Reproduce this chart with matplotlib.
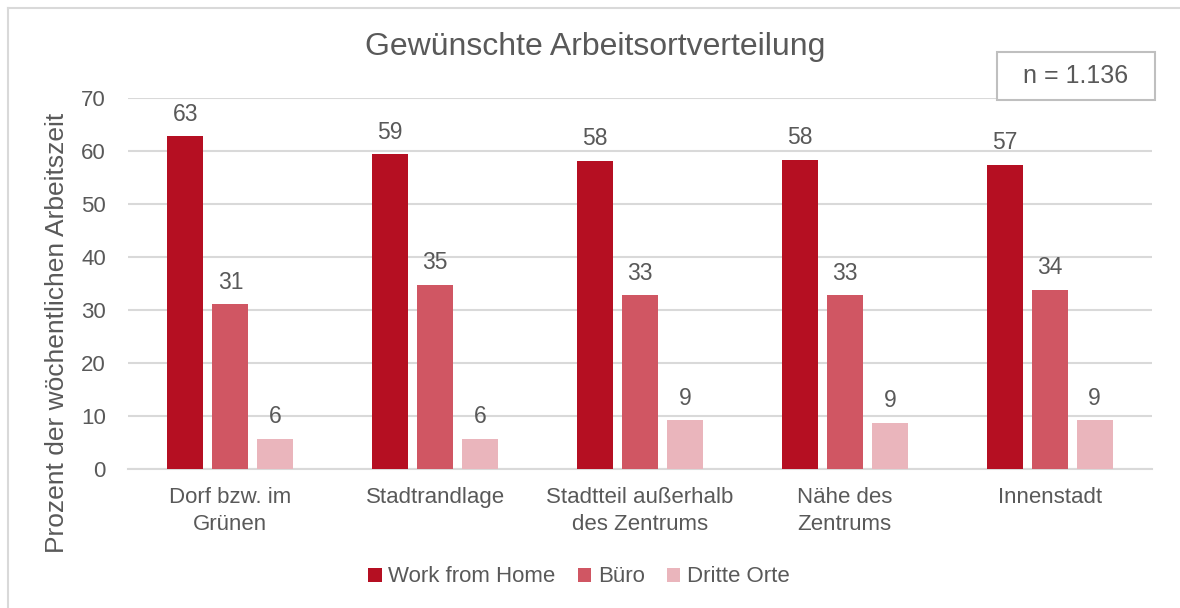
import numpy as np
import matplotlib.pyplot as plt
from matplotlib.lines import Line2D
from matplotlib.patches import Rectangle

plt.rcParams['font.family'] = ['Liberation Sans', 'DejaVu Sans']

categories = ['Dorf bzw. im\nGrünen', 'Stadtrandlage', 'Stadtteil außerhalb\ndes Zentrums',
              'Nähe des\nZentrums', 'Innenstadt']
series = ['Work from Home', 'Büro', 'Dritte Orte']
wfh = [62.8, 59.4, 58.1, 58.3, 57.4]
buero = [31.1, 34.7, 32.8, 32.8, 33.8]
dritte = [5.7, 5.7, 9.2, 8.7, 9.2]
colors = ['#B50F22', '#D05663', '#EAB5BC']
txt = '#595959'

fig = plt.figure(figsize=(11.8, 6.08), dpi=100)
ax = fig.add_axes([128 / 1180, 1 - 469 / 608, 1024 / 1180, 371 / 608])

x = np.arange(len(categories))
w = 0.176
step = 0.22
for i, (vals, name) in enumerate(zip([wfh, buero, dritte], series)):
    pos = x + (i - 1) * step
    ax.bar(pos, vals, width=w, color=colors[i], label=name, zorder=3)
    for p, v in zip(pos, vals):
        ax.text(p, v + 2.0, f'{v:.0f}', ha='center', va='bottom', fontsize=16.5, color=txt)

ax.set_xlim(-0.5, 4.5)
ax.set_ylim(0, 70)
ax.set_yticks(range(0, 71, 10))
ax.yaxis.grid(True, color='#D9D9D9', linewidth=1.5, zorder=0)
ax.set_axisbelow(True)
for s in ['top', 'right', 'left']:
    ax.spines[s].set_visible(False)
ax.spines['bottom'].set_color('#D9D9D9')
ax.spines['bottom'].set_linewidth(1.5)
ax.tick_params(length=0, labelsize=16, colors=txt)
ax.tick_params(axis='y', pad=16)
ax.set_xticks(x)
ax.set_xticklabels(categories, fontsize=16, color=txt, linespacing=1.4)
ax.tick_params(axis='x', pad=13)

fig.text(57 / 1180, 1 - 333 / 608, 'Prozent der wöchentlichen Arbeitszeit', rotation=90,
         ha='center', va='center', fontsize=19, color=txt)

fig.text(595 / 1180, 1 - 47 / 608, 'Gewünschte Arbeitsortverteilung', ha='center', va='center',
         fontsize=23, color=txt)

# n box
fig.add_artist(Rectangle((997 / 1180, 1 - 100 / 608), 158 / 1180, 48 / 608, transform=fig.transFigure,
                         facecolor='white', edgecolor='#BFBFBF', linewidth=1.5, zorder=5))
fig.text(1076 / 1180, 1 - 76 / 608, 'n = 1.136', ha='center', va='center', fontsize=18, color=txt,
         zorder=6)

fig.legend(loc='center', bbox_to_anchor=(579 / 1180, 1 - 577 / 608), ncol=3, frameon=False,
           fontsize=16, labelcolor=txt, handlelength=0.6, handleheight=0.6, handletextpad=0.3,
           columnspacing=1.0)

# outer frame
fig.add_artist(Line2D([8 / 1180, 8 / 1180], [0, 1 - 8 / 608], color='#D9D9D9', linewidth=1.5))
fig.add_artist(Line2D([8 / 1180, 1], [1 - 8 / 608, 1 - 8 / 608], color='#D9D9D9', linewidth=1.5))

fig.savefig('out.png', dpi=100)
